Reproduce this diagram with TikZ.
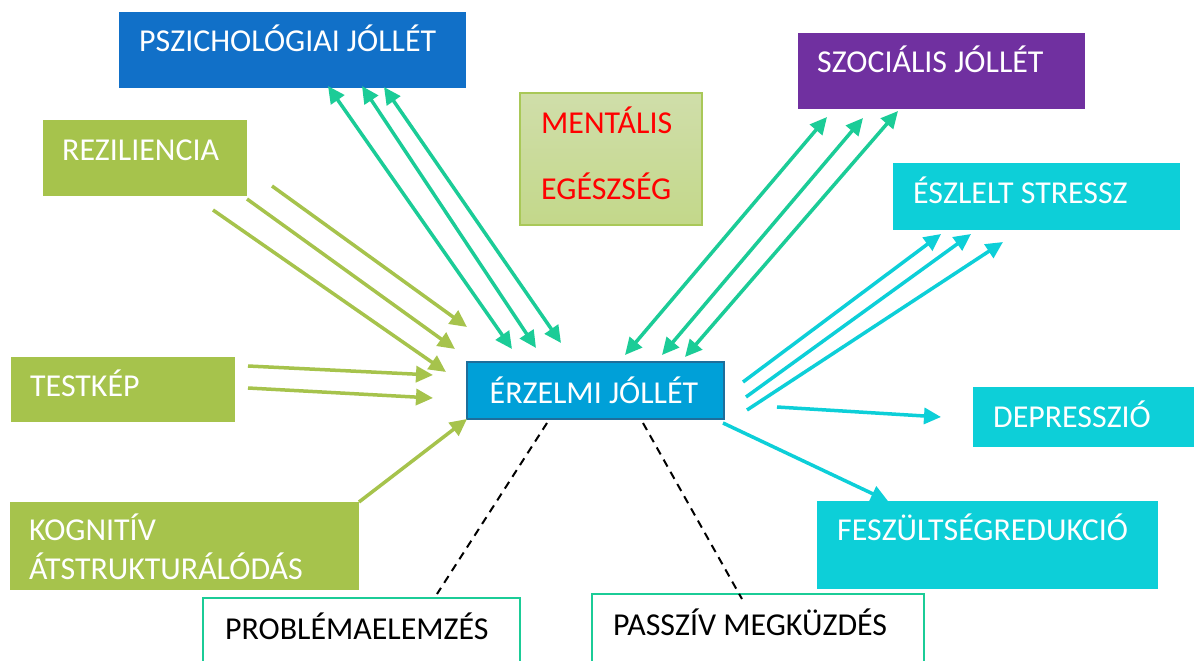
\documentclass[tikz,border=0pt]{standalone}
\usepackage{fontspec}
\setmainfont{Carlito}
\usetikzlibrary{arrows.meta}
\definecolor{pszc}{RGB}{17,112,200}
\definecolor{szocc}{RGB}{112,48,160}
\definecolor{grnc}{RGB}{166,195,76}
\definecolor{cync}{RGB}{13,207,216}
\definecolor{tealg}{RGB}{27,204,151}
\definecolor{erzc}{RGB}{0,160,216}
\definecolor{erzb}{RGB}{30,110,155}
\definecolor{mentt}{RGB}{208,222,170}
\definecolor{mentb}{RGB}{195,216,138}
\definecolor{mentbd}{RGB}{169,200,88}
\newcommand\bigfs{\fontsize{31.9}{38}\selectfont}
\tikzset{
  boxx/.style={rectangle, inner sep=0pt, outer sep=0pt, anchor=north west},
  lbl/.style={anchor=base west, inner sep=0pt, font=\bigfs, text=white},
  arr/.style={line width=3.5pt, -{Triangle[length=17pt,width=16pt]}},
  darr/.style={line width=3.5pt, {Triangle[length=17pt,width=16pt]}-{Triangle[length=17pt,width=16pt]}},
  dsh/.style={line width=2pt, black, dash pattern=on 8pt off 6pt},
}
\begin{document}
\begin{tikzpicture}[x=1pt,y=-1pt]
\clip (0,0) rectangle (1194,661);
\fill[white] (0,0) rectangle (1194,661);

% boxes
\node[boxx, fill=pszc, minimum width=347pt, minimum height=76pt] (psz) at (119,12) {};
\node[lbl] (psztxt) at (139,52) {PSZICHOLÓGIAI JÓLLÉT};

\node[boxx, top color=mentt, bottom color=mentb, draw=mentbd, line width=1.5pt, minimum width=182pt, minimum height=132pt] (ment) at (520,93) {};
\node[lbl, text=red] (ment1) at (541,133) {MENTÁLIS};
\node[lbl, text=red] (ment2) at (541,199) {EGÉSZSÉG};

\node[boxx, fill=szocc, minimum width=287pt, minimum height=76pt] (szoc) at (798,33) {};
\node[lbl] (szoctxt) at (817,73) {SZOCIÁLIS JÓLLÉT};

\node[boxx, fill=grnc, minimum width=204pt, minimum height=76pt] (rez) at (43,120) {};
\node[lbl] (reztxt) at (62,160) {REZILIENCIA};

\node[boxx, fill=cync, minimum width=287pt, minimum height=67pt] (esz) at (893,163) {};
\node[lbl] (esztxt) at (913,203) {ÉSZLELT STRESSZ};

\node[boxx, fill=cync, minimum width=230pt, minimum height=60pt] (dep) at (973,387) {};
\node[lbl] (deptxt) at (993,427) {DEPRESSZIÓ};

\node[boxx, fill=grnc, minimum width=224pt, minimum height=65pt] (test) at (11,357) {};
\node[lbl] (testtxt) at (30,396) {TESTKÉP};

\node[boxx, fill=erzc, draw=erzb, line width=2.5pt, minimum width=257pt, minimum height=57pt] (erz) at (467,362) {};
\node[anchor=base, inner sep=0pt, font=\bigfs, text=white] (erztxt) at (594,403) {ÉRZELMI JÓLLÉT};

\node[boxx, fill=grnc, minimum width=349pt, minimum height=88pt] (kog) at (10,502) {};
\node[lbl] (kog1) at (29,540) {KOGNITÍV};
\node[lbl] (kog2) at (29,579) {ÁTSTRUKTURÁLÓDÁS};

\node[boxx, fill=cync, minimum width=341pt, minimum height=88pt] (fesz) at (817,501) {};
\node[lbl] (fesztxt) at (837,540) {FESZÜLTSÉGREDUKCIÓ};

\node[boxx, fill=white, draw=tealg, line width=2.2pt, minimum width=317pt, minimum height=80pt] (prob) at (203,598) {};
\node[lbl, text=black] (probtxt) at (225,639) {PROBLÉMAELEMZÉS};

\node[boxx, fill=white, draw=tealg, line width=2.2pt, minimum width=332pt, minimum height=80pt] (pass) at (592,594) {};
\node[lbl, text=black] (passtxt) at (613,635) {PASSZÍV MEGKÜZDÉS};

% endpoints
\coordinate (p1a) at (328,86);  \coordinate (p1b) at (512,349);
\coordinate (p2a) at (362,86);  \coordinate (p2b) at (536,348);
\coordinate (p3a) at (384,87);  \coordinate (p3b) at (561,343);
\coordinate (s1a) at (827,117); \coordinate (s1b) at (625,355);
\coordinate (s2a) at (863,118); \coordinate (s2b) at (662,355);
\coordinate (s3a) at (898,111); \coordinate (s3b) at (685,357);
\coordinate (r1a) at (272,186); \coordinate (r1b) at (467,327);
\coordinate (r2a) at (247,199); \coordinate (r2b) at (455,349);
\coordinate (r3a) at (213,210); \coordinate (r3b) at (446,372);
\coordinate (t1a) at (248,366); \coordinate (t1b) at (433,375);
\coordinate (t2a) at (248,388); \coordinate (t2b) at (433,398);
\coordinate (e1a) at (743,382); \coordinate (e1b) at (941,234);
\coordinate (e2a) at (746,397); \coordinate (e2b) at (971,234);
\coordinate (e3a) at (747,410); \coordinate (e3b) at (1003,242);
\coordinate (da) at (777,407);  \coordinate (db) at (941,417);
\coordinate (fa) at (723,423);  \coordinate (fb) at (888,501);
\coordinate (d1a) at (547,423); \coordinate (d1b) at (437,594);
\coordinate (d2a) at (643,423); \coordinate (d2b) at (742,599);

% connectors
\draw[darr, tealg] (p1a) -- (p1b);
\draw[darr, tealg] (p2a) -- (p2b);
\draw[darr, tealg] (p3a) -- (p3b);
\draw[darr, tealg] (s1a) -- (s1b);
\draw[darr, tealg] (s2a) -- (s2b);
\draw[darr, tealg] (s3a) -- (s3b);
\draw[arr, grnc] (r1a) -- (r1b);
\draw[arr, grnc] (r2a) -- (r2b);
\draw[arr, grnc] (r3a) -- (r3b);
\draw[arr, grnc] (t1a) -- (t1b);
\draw[arr, grnc] (t2a) -- (t2b);
\draw[arr, grnc] (kog.north east) -- (erz.south west);
\draw[arr, cync] (e1a) -- (e1b);
\draw[arr, cync] (e2a) -- (e2b);
\draw[arr, cync] (e3a) -- (e3b);
\draw[arr, cync] (da) -- (db);
\draw[arr, cync] (fa) -- (fb);
\draw[dsh] (d1a) -- (d1b);
\draw[dsh] (d2a) -- (d2b);
\end{tikzpicture}
\end{document}
